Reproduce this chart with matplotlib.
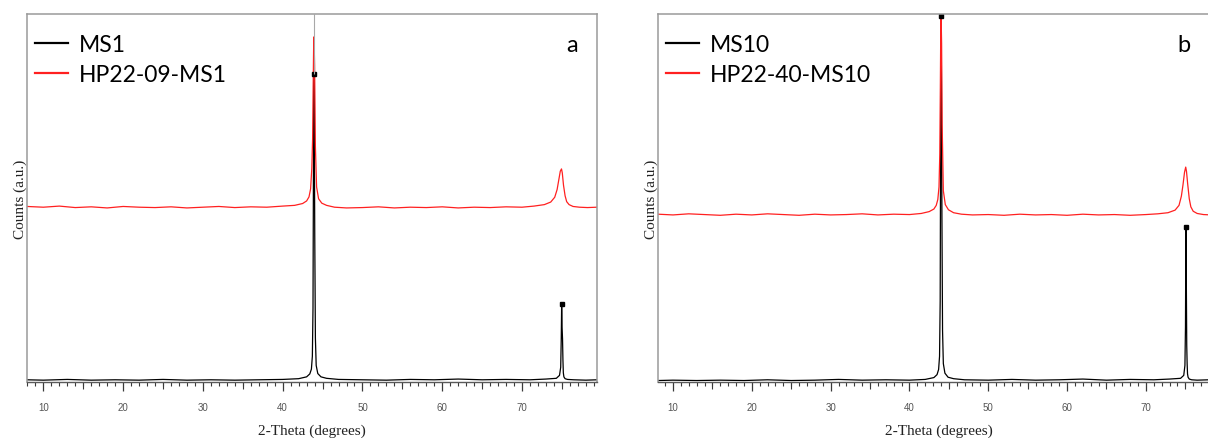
import matplotlib
matplotlib.use("Agg")
import matplotlib.pyplot as plt
from matplotlib.ticker import MultipleLocator, NullFormatter

# ---- data (y in % of the plot height) ----

# panel a
ms1_x = [7.95, 10, 13, 16, 19, 22, 25, 28, 31, 34, 37, 40, 42, 43.0, 43.4, 43.6, 43.72, 43.8, 43.86,
         43.9, 43.95, 44.02, 44.1, 44.2, 44.4, 44.8, 45.5, 47, 50, 53, 56, 59, 62, 65, 68, 71, 73,
         74.3, 74.7, 74.85, 74.92, 74.97, 75.02, 75.08, 75.13, 75.18, 75.25, 75.4, 75.7, 76.5, 78, 79.4]
ms1_y = [0.6, 0.5, 0.7, 0.5, 0.6, 0.5, 0.7, 0.5, 0.6, 0.5, 0.6, 0.7, 0.9, 1.4, 2.2, 3.5, 7, 20, 60,
         83.7, 75, 40, 12, 4.5, 2.3, 1.4, 1.0, 0.7, 0.6, 0.5, 0.7, 0.6, 0.8, 0.6, 0.7, 0.6, 0.8,
         1.0, 1.8, 4, 12, 21.2, 15, 11.7, 6, 2.5, 1.4, 0.9, 0.7, 0.6, 0.5, 0.6]

hp09_x = [7.95, 10, 12, 14, 16, 18, 20, 22, 24, 26, 28, 30, 32, 34, 36, 38, 40, 41.5, 42.5, 43.0,
          43.3, 43.5, 43.65, 43.75, 43.82, 43.88, 43.93, 44.0, 44.1, 44.25, 44.5, 44.9, 45.5, 46.5,
          48, 50, 52, 54, 56, 58, 60, 62, 64, 66, 68, 70, 71.5, 72.8, 73.6, 74.1, 74.4, 74.6, 74.8,
          74.95, 75.05, 75.2, 75.4, 75.6, 75.9, 76.4, 77.2, 78.2, 79.4]
hp09_y = [47.7, 47.5, 47.8, 47.4, 47.6, 47.3, 47.7, 47.5, 47.4, 47.6, 47.3, 47.5, 47.7, 47.4, 47.6,
          47.5, 47.8, 48.0, 48.5, 49.2, 50.3, 52.5, 58, 66, 80, 91, 93.8, 86, 64, 53, 49.8, 48.6,
          48.0, 47.5, 47.3, 47.4, 47.6, 47.3, 47.5, 47.4, 47.6, 47.3, 47.5, 47.4, 47.6, 47.5, 47.8,
          48.2, 48.9, 50.2, 52.3, 54.8, 57.3, 57.9, 56.8, 53.5, 50.6, 49.0, 48.2, 47.7, 47.5, 47.4, 47.5]

ms1_top_x = [43.9, 74.97]
ms1_top_y = [83.7, 21.2]

# panel b
ms10_x = [8.1, 10, 13, 16, 19, 22, 25, 28, 31, 34, 37, 40, 42, 43.1, 43.5, 43.7, 43.82, 43.9, 43.96,
          44.0, 44.05, 44.12, 44.2, 44.3, 44.5, 44.9, 45.6, 47, 50, 53, 56, 59, 62, 65, 68, 71, 73,
          74.4, 74.8, 74.95, 75.02, 75.07, 75.12, 75.18, 75.23, 75.28, 75.35, 75.5, 75.8, 76.5, 78, 79.4]
ms10_y = [0.4, 0.5, 0.4, 0.5, 0.4, 0.6, 0.4, 0.5, 0.7, 0.5, 0.6, 0.5, 0.7, 1.2, 2.0, 3.4, 7, 22, 70,
          99.5, 88, 45, 14, 5, 2.4, 1.3, 0.9, 0.6, 0.5, 0.7, 0.5, 0.6, 0.8, 0.5, 0.7, 0.6, 0.8,
          1.0, 1.8, 4.5, 15, 42.1, 30, 10, 5, 2.2, 1.3, 0.8, 0.6, 0.5, 0.6, 0.5]

hp40_x = [8.1, 10, 12, 14, 16, 18, 20, 22, 24, 26, 28, 30, 32, 34, 36, 38, 40, 41.5, 42.5, 43.1,
          43.4, 43.6, 43.75, 43.85, 43.92, 43.97, 44.02, 44.08, 44.15, 44.3, 44.55, 44.95, 45.6, 46.6,
          48, 50, 52, 54, 56, 58, 60, 62, 64, 66, 68, 70, 71.5, 72.8, 73.7, 74.2, 74.5, 74.7, 74.9,
          75.05, 75.15, 75.3, 75.5, 75.7, 76.0, 76.5, 77.3, 78.3, 79.4]
hp40_y = [45.6, 45.4, 45.7, 45.5, 45.3, 45.6, 45.4, 45.7, 45.5, 45.3, 45.6, 45.4, 45.5, 45.7, 45.4,
          45.6, 45.5, 45.8, 46.3, 47.0, 48.0, 49.6, 53, 62, 80, 95, 99, 92, 70, 52, 48.2, 46.8,
          46.0, 45.6, 45.4, 45.5, 45.3, 45.6, 45.4, 45.5, 45.3, 45.6, 45.4, 45.5, 45.3, 45.5, 45.7,
          46.0, 46.7, 48.0, 50.5, 53.5, 57.0, 58.4, 57.2, 53.8, 49.8, 47.6, 46.4, 45.8, 45.5, 45.4, 45.5]

ms10_top_x = [44.0, 75.07]
ms10_top_y = [99.5, 42.1]

panel_a_xlim = (7.95, 79.4)
panel_b_xlim = (8.1, 79.4)
major_ticks = [10, 20, 30, 40, 50, 60, 70]
mid_ticks = [15, 25, 35, 45, 55, 65, 75]

legend_font = "Lato"
serif_font = "Liberation Serif"


def style_axis(ax, xlim):
    '''
    grey box, no y ticks, downward ticks every degree with small grey labels
    '''
    ax.set_xlim(*xlim)
    ax.set_ylim(0, 100)
    for side in ["left", "top", "right"]:
        ax.spines[side].set_color("#9a9a9a")
        ax.spines[side].set_linewidth(1.1)
    ax.spines["bottom"].set_color("#5a5a5a")
    ax.spines["bottom"].set_linewidth(1.0)
    ax.set_yticks([])
    ax.set_xticks(major_ticks)
    ax.xaxis.set_minor_locator(MultipleLocator(1))
    ax.xaxis.set_minor_formatter(NullFormatter())
    ax.tick_params(axis="x", which="major", direction="out", length=6.5, width=0.9,
                   color="#3a3a3a", labelsize=7, labelcolor="#555555", pad=8)
    ax.tick_params(axis="x", which="minor", direction="out", length=3, width=0.8, color="#3a3a3a")
    for lab in ax.get_xticklabels():
        lab.set_fontfamily("Liberation Sans")

    # the 5-degree ticks are a bit longer than the 1-degree ones
    sec = ax.secondary_xaxis("bottom")
    sec.set_xticks(mid_ticks)
    sec.tick_params(axis="x", direction="out", length=5, width=0.8, color="#3a3a3a", labelbottom=False)
    sec.spines["bottom"].set_visible(False)

    ax.text(0.5, -0.13, "2-Theta (degrees)", transform=ax.transAxes, ha="center", va="center",
            fontsize=11, family=serif_font, color="#222222")
    ax.text(-0.012, 0.5, "Counts (a.u.)", transform=ax.transAxes, ha="center", va="center",
            rotation=90, fontsize=11, family=serif_font, color="#222222")


def draw_panel(ax, xlim, bx, by, rx, ry, tops_x, tops_y, labels, letter, letter_x):
    ax.plot(bx, by, color="black", lw=0.9, label=labels[0])
    ax.plot(rx, ry, color="#ff2020", lw=0.9, label=labels[1])
    ax.plot(tops_x, tops_y, "s", color="black", ms=2.2)
    style_axis(ax, xlim)

    leg = ax.legend(loc="upper left", bbox_to_anchor=(0.0, 0.968), frameon=False,
                    borderaxespad=0, borderpad=0.35, handlelength=1.45, handletextpad=0.45,
                    labelspacing=0.42, prop={"family": legend_font, "size": 16.5})
    for line in leg.get_lines():
        line.set_linewidth(1.6)

    ax.text(letter_x, 0.918, letter, transform=ax.transAxes, ha="center", va="center",
            fontsize=17, family=legend_font, color="black")


def main():
    fig = plt.figure(figsize=(12.08, 4.39), dpi=100)
    ax_a = fig.add_axes([27 / 1208, 1 - 383 / 439, 570 / 1208, 368 / 439])
    ax_b = fig.add_axes([658 / 1208, 1 - 383 / 439, 562 / 1208, 368 / 439])

    draw_panel(ax_a, panel_a_xlim, ms1_x, ms1_y, hp09_x, hp09_y, ms1_top_x, ms1_top_y,
               ["MS1", "HP22-09-MS1"], "a", 0.956)
    # the MS1 main peak runs off the top as a thin grey line
    ax_a.vlines(ms1_top_x[0], ms1_top_y[0], 100, color="#a8a8a8", lw=0.8)

    draw_panel(ax_b, panel_b_xlim, ms10_x, ms10_y, hp40_x, hp40_y, ms10_top_x, ms10_top_y,
               ["MS10", "HP22-40-MS10"], "b", 0.936)

    fig.savefig("out.png", dpi=100)


if __name__ == "__main__":
    main()
